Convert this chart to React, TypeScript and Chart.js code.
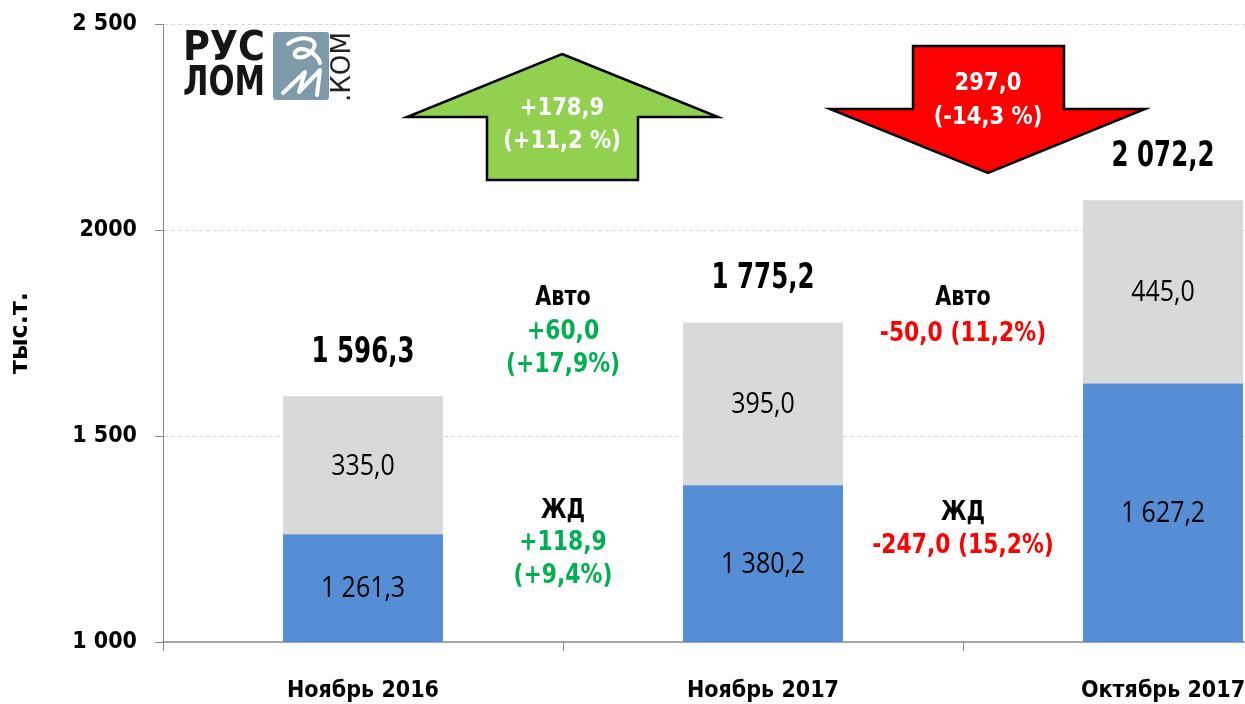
import React, { useEffect, useRef } from 'react';
import { Chart, registerables } from 'chart.js';

Chart.register(...registerables);

// ---- data ----
const categories = ['Ноябрь 2016', 'Ноябрь 2017', 'Октябрь 2017'];
const seriesNames = ['ЖД', 'Авто'];
const railValues = [1261.3, 1380.2, 1627.2];
const autoValues = [335.0, 395.0, 445.0];
const yTickValues = [1000, 1500, 2000, 2500];
const yTickLabels = ['1 000', '1 500', '2000', '2 500'];
const axisTitle = 'тыс.т.';
const upArrowText = ['+178,9', '(+11,2 %)'];
const downArrowText = ['297,0', '(-14,3 %)'];
const leftAutoNote = ['+60,0', '(+17,9%)'];
const leftRailNote = ['+118,9', '(+9,4%)'];
const rightAutoNote = ['-50,0 (11,2%)'];
const rightRailNote = ['-247,0 (15,2%)'];
const logoLines = ['РУС', 'ЛОМ'];
const logoSuffix = '.КОМ';

const BOLD_FAMILY = "'DejaVu Sans', sans-serif";
const COND_FAMILY = "'DejaVu Sans Condensed', 'DejaVu Sans', sans-serif";
const LABEL_FAMILY = "'Open Sans', 'DejaVu Sans', sans-serif";
const GREEN = '#00B050';
const RED = '#FF0000';

const fmt = (v: number) => {
  const [i, d] = v.toFixed(1).split('.');
  return i.replace(/\B(?=(\d{3})+(?!\d))/g, ' ') + ',' + d;
};

function drawScaled(ctx: CanvasRenderingContext2D, text: string, x: number, y: number, font: string, color: string, sx = 1) {
  ctx.save();
  ctx.font = font;
  ctx.fillStyle = color;
  ctx.textAlign = 'center';
  ctx.textBaseline = 'middle';
  ctx.translate(x, y);
  ctx.scale(sx, 1);
  ctx.fillText(text, 0, 0);
  ctx.restore();
}

function drawFit(ctx: CanvasRenderingContext2D, text: string, x: number, y: number, font: string, color: string, width: number) {
  ctx.save();
  ctx.font = font;
  const w = ctx.measureText(text).width || 1;
  ctx.restore();
  drawScaled(ctx, text, x, y, font, color, width / w);
}

function polygon(ctx: CanvasRenderingContext2D, pts: number[][], fill: string) {
  ctx.save();
  ctx.beginPath();
  pts.forEach(([px, py], i) => (i === 0 ? ctx.moveTo(px, py) : ctx.lineTo(px, py)));
  ctx.closePath();
  ctx.fillStyle = fill;
  ctx.fill();
  ctx.lineWidth = 2.5;
  ctx.lineJoin = 'miter';
  ctx.strokeStyle = '#000';
  ctx.stroke();
  ctx.restore();
}

const overlayPlugin = {
  id: 'overlay',
  afterDatasetsDraw(chart: any) {
    const ctx: CanvasRenderingContext2D = chart.ctx;
    const area = chart.chartArea;
    const xs = chart.scales.x;
    const railMeta = chart.getDatasetMeta(0);
    const autoMeta = chart.getDatasetMeta(1);

    // segment labels
    [railMeta, autoMeta].forEach((meta: any, di: number) => {
      const vals = di === 0 ? railValues : autoValues;
      meta.data.forEach((bar: any, j: number) => {
        const top = Math.max(bar.y, area.top);
        const bottom = Math.min(bar.base, area.bottom);
        drawScaled(ctx, fmt(vals[j]), bar.x, (top + bottom) / 2 + 1, `29px ${LABEL_FAMILY}`, '#000', 0.86);
      });
    });

    // totals
    autoMeta.data.forEach((bar: any, j: number) => {
      drawScaled(ctx, fmt(railValues[j] + autoValues[j]), bar.x, bar.y - 44, `bold 36px ${BOLD_FAMILY}`, '#000', 0.68);
    });

    const mid1 = (xs.getPixelForValue(0) + xs.getPixelForValue(1)) / 2;
    const mid2 = (xs.getPixelForValue(1) + xs.getPixelForValue(2)) / 2;
    const bf = `bold 26px ${BOLD_FAMILY}`;

    // left notes
    drawScaled(ctx, seriesNames[1], mid1, 298, bf, '#000', 0.8);
    drawScaled(ctx, leftAutoNote[0], mid1, 332, bf, GREEN, 0.84);
    drawScaled(ctx, leftAutoNote[1], mid1, 365, bf, GREEN, 0.84);
    drawScaled(ctx, seriesNames[0], mid1, 511, bf, '#000', 0.8);
    drawScaled(ctx, leftRailNote[0], mid1, 543, bf, GREEN, 0.84);
    drawScaled(ctx, leftRailNote[1], mid1, 576, bf, GREEN, 0.84);

    // right notes
    drawScaled(ctx, seriesNames[1], mid2, 298, bf, '#000', 0.8);
    drawScaled(ctx, rightAutoNote[0], mid2, 334, bf, RED, 0.84);
    drawScaled(ctx, seriesNames[0], mid2, 513, bf, '#000', 0.8);
    drawScaled(ctx, rightRailNote[0], mid2, 546, bf, RED, 0.84);
  },
  afterDraw(chart: any) {
    const ctx: CanvasRenderingContext2D = chart.ctx;
    const xs = chart.scales.x;
    const mid1 = (xs.getPixelForValue(0) + xs.getPixelForValue(1)) / 2;
    const mid2 = (xs.getPixelForValue(1) + xs.getPixelForValue(2)) / 2;

    // green up arrow
    polygon(ctx, [
      [mid1 - 1, 54], [mid1 + 155, 117], [mid1 + 75, 117], [mid1 + 75, 180],
      [mid1 - 76, 180], [mid1 - 76, 117], [mid1 - 156, 117],
    ], '#92D050');
    const af = `bold 24px ${BOLD_FAMILY}`;
    drawScaled(ctx, upArrowText[0], mid1 - 1, 109, af, '#fff', 0.88);
    drawScaled(ctx, upArrowText[1], mid1 - 1, 142, af, '#fff', 0.88);

    // red down arrow
    polygon(ctx, [
      [mid2 - 50, 46], [mid2 + 101, 46], [mid2 + 101, 109], [mid2 + 182, 109],
      [mid2 + 25, 173], [mid2 - 133, 109], [mid2 - 50, 109],
    ], '#FF0000');
    drawScaled(ctx, downArrowText[0], mid2 + 25, 84, af, '#fff', 0.88);
    drawScaled(ctx, downArrowText[1], mid2 + 25, 118, af, '#fff', 0.88);

    // logo
    const lf = `bold 40px ${BOLD_FAMILY}`;
    drawFit(ctx, logoLines[0], 224, 50, lf, '#151515', 82);
    drawFit(ctx, logoLines[1], 224, 85, lf, '#151515', 82);
    ctx.save();
    ctx.fillStyle = '#7F9BAB';
    ctx.beginPath();
    (ctx as any).roundRect ? (ctx as any).roundRect(273, 32, 56, 68, 3) : ctx.rect(273, 32, 56, 68);
    ctx.fill();
    ctx.strokeStyle = '#fff';
    ctx.lineWidth = 4;
    ctx.lineCap = 'round';
    ctx.lineJoin = 'round';
    ctx.beginPath();
    ctx.moveTo(288, 44);
    ctx.bezierCurveTo(300, 34, 322, 38, 312, 51);
    ctx.bezierCurveTo(305, 60, 290, 59, 296, 51);
    ctx.bezierCurveTo(302, 45, 318, 54, 320, 63);
    ctx.stroke();
    ctx.beginPath();
    ctx.moveTo(283, 93);
    ctx.lineTo(305, 72);
    ctx.lineTo(299, 92);
    ctx.lineTo(320, 70);
    ctx.lineTo(317, 95);
    ctx.stroke();
    ctx.restore();
    ctx.save();
    ctx.translate(343, 67);
    ctx.rotate(-Math.PI / 2);
    drawFit(ctx, logoSuffix, 0, 0, `26px ${BOLD_FAMILY}`, '#222', 70);
    ctx.restore();
  },
};

export default function App() {
  const ref = useRef<HTMLCanvasElement>(null);

  useEffect(() => {
    if (!ref.current) return;
    const chart = new Chart(ref.current, {
      type: 'bar',
      data: {
        labels: categories,
        datasets: [
          { label: seriesNames[0], data: railValues, backgroundColor: '#558ED5', borderWidth: 0 },
          { label: seriesNames[1], data: autoValues, backgroundColor: '#D9D9D9', borderWidth: 0 },
        ],
      },
      options: {
        responsive: false,
        animation: false,
        layout: { padding: { top: 24, right: 17, left: 0, bottom: 0 } },
        datasets: { bar: { barPercentage: 0.4, categoryPercentage: 1 } },
        plugins: { legend: { display: false }, tooltip: { enabled: false } },
        scales: {
          x: {
            stacked: true,
            grid: {
              offset: true, drawOnChartArea: false, drawTicks: true,
              tickLength: 9, tickColor: '#868686', tickWidth: 1, tickBorderDash: [],
            },
            border: { color: '#A6A6A6', width: 2 },
            ticks: {
              color: '#000', padding: 26, maxRotation: 0, autoSkip: false,
              font: { family: COND_FAMILY, size: 23, weight: 'bold' },
            },
            afterFit: (s: any) => { s.height = 62; s.paddingLeft = 0; s.paddingRight = 0; },
          },
          y: {
            stacked: true,
            min: 1000,
            max: 2500,
            afterBuildTicks: (s: any) => { s.ticks = yTickValues.map((v) => ({ value: v })); },
            ticks: {
              color: '#000', padding: 18,
              font: { family: COND_FAMILY, size: 23, weight: 'bold' },
              callback: (v: any) => {
                const i = yTickValues.indexOf(Number(v));
                return i >= 0 ? yTickLabels[i] : '';
              },
            },
            grid: {
              color: '#D9D9D9', lineWidth: 1, drawTicks: true, tickLength: 8,
              tickColor: '#868686', tickWidth: 1, tickBorderDash: [],
            },
            border: { color: '#868686', width: 1, dash: [4, 3] },
            title: {
              display: true, text: axisTitle, color: '#000',
              font: { family: BOLD_FAMILY, size: 24, weight: 'bold' },
              padding: { top: 6, bottom: 0 },
            },
            afterFit: (s: any) => { s.width = 163; s.paddingTop = 0; s.paddingBottom = 0; },
          },
        },
      } as any,
      plugins: [overlayPlugin],
    });
    return () => chart.destroy();
  }, []);

  return (
    <div style={{ position: 'absolute', left: 0, top: 0, width: 1245, height: 704, overflow: 'hidden', background: '#fff' }}>
      <canvas ref={ref} width={1380} height={704} style={{ display: 'block' }} />
    </div>
  );
}
